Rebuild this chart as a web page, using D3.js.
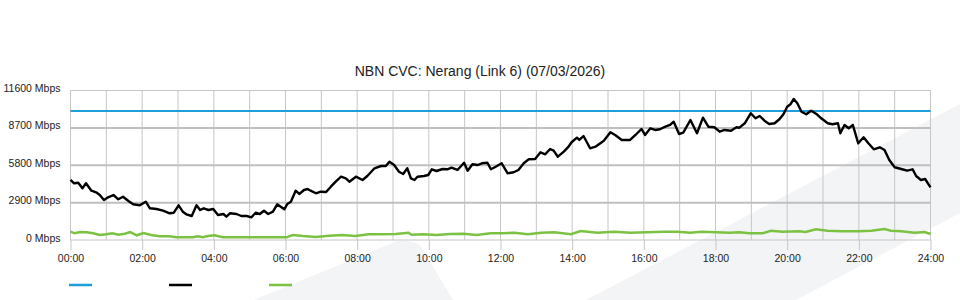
<!DOCTYPE html>
<html>
<head>
<meta charset="utf-8">
<script src="https://cdn.jsdelivr.net/npm/d3@7"></script>
<style>
  html, body { margin: 0; padding: 0; background: #fff; }
  svg { display: block; font-family: "Liberation Sans", Arial, sans-serif; }
</style>
</head>
<body>
<svg id="chart" width="960" height="300"></svg>
<script>
// chart text
const title = 'NBN CVC: Nerang (Link 6) (07/03/2026)';
const yTicks = [0, 2900, 5800, 8700, 11600];
const xTickMinutes = [0, 120, 240, 360, 480, 600, 720, 840, 960, 1080, 1200, 1320, 1440];

// capacity (blue)
const capacityMbps = 10000;

// used bandwidth (black): minutes after midnight, Mbps
const usedMinutes = [0, 6, 13, 20, 26, 35, 44, 49, 56, 63, 72, 80, 88, 97, 105, 116, 126, 133, 144, 155, 166, 173,
  181, 188, 194, 203, 211, 217, 223, 231, 239, 247, 256, 261, 267, 278, 286, 295, 303, 310, 317, 324, 331, 339,
  346, 358, 363, 369, 377, 383, 391, 397, 402, 411, 419, 428, 436, 444, 453, 461, 467, 478, 489, 497, 509, 520,
  528, 534, 542, 550, 557, 564, 570, 576, 581, 592, 599, 605, 613, 623, 631, 638, 648, 659, 665, 673, 682, 689,
  698, 704, 712, 722, 732, 742, 750, 759, 767, 778, 787, 795, 803, 809, 816, 826, 834, 839, 848, 852, 859, 870,
  879, 893, 904, 912, 923, 937, 946, 956, 962, 971, 979, 987, 996, 1004, 1010, 1019, 1026, 1038, 1049, 1059,
  1068, 1078, 1087, 1095, 1106, 1115, 1120, 1129, 1139, 1147, 1154, 1162, 1170, 1179, 1187, 1194, 1200, 1206,
  1211, 1217, 1224, 1232, 1240, 1249, 1257, 1268, 1276, 1285, 1289, 1296, 1303, 1310, 1319, 1328, 1336, 1345,
  1355, 1363, 1371, 1380, 1391, 1401, 1410, 1416, 1424, 1431, 1440];
const usedMbps = [4660, 4400, 4446, 4012, 4400, 3826, 3670, 3492, 3104, 3313, 3492, 3158, 3360, 3026, 2770, 2693,
  2972, 2460, 2406, 2274, 2072, 2118, 2693, 2196, 1994, 1862, 2693, 2328, 2460, 2328, 2406, 1940, 2018, 1808,
  2072, 2018, 1862, 1862, 1762, 2118, 2018, 2274, 2018, 2196, 2770, 2382, 2794, 2972, 3826, 3570, 3880, 3958,
  3826, 3624, 3748, 3725, 4136, 4524, 4912, 4788, 4524, 4912, 4656, 4966, 5564, 5742, 5742, 6076, 5820, 5300,
  5122, 5564, 4788, 4656, 4912, 4966, 5044, 5486, 5354, 5510, 5486, 5610, 5432, 5998, 5378, 5874, 5820, 5952,
  5998, 5486, 5688, 5952, 5176, 5254, 5432, 5952, 6262, 6286, 6806, 6650, 7062, 6930, 6464, 6852, 7240, 7582,
  7938, 7760, 8070, 7116, 7240, 7706, 8357, 8148, 7760, 7760, 8148, 8614, 8148, 8668, 8536, 8590, 8792, 8924,
  9180, 8226, 8326, 9312, 8280, 9490, 8792, 8746, 8404, 8536, 8482, 8746, 8714, 9056, 9832, 9444, 9622, 9258,
  9002, 9056, 9366, 9778, 10344, 10554, 10942, 10608, 9956, 9754, 10034, 9778, 9444, 9056, 8978, 9056, 8280,
  8924, 8668, 8924, 7504, 7970, 7504, 7038, 7194, 6984, 6208, 5642, 5510, 5378, 5486, 4966, 4656, 4734, 4090];

// second series (green): minutes after midnight, Mbps
const greenMinutes = [0, 7, 16, 27, 38, 49, 60, 70, 80, 91, 100, 111, 122, 135, 149, 166, 177, 205, 213, 222, 230,
  241, 255, 362, 372, 389, 411, 433, 455, 477, 499, 521, 544, 566, 571, 591, 613, 636, 658, 680, 704, 722, 743,
  766, 788, 810, 838, 854, 882, 910, 938, 966, 994, 1016, 1038, 1056, 1081, 1103, 1120, 1137, 1159, 1173, 1192,
  1220, 1231, 1248, 1268, 1291, 1319, 1341, 1363, 1374, 1391, 1413, 1430, 1440];
const greenMbps = [644, 520, 620, 598, 520, 388, 442, 520, 411, 489, 620, 365, 543, 388, 287, 287, 210, 210, 287,
  210, 310, 365, 210, 210, 388, 310, 233, 334, 388, 310, 442, 442, 466, 566, 411, 442, 388, 466, 489, 388, 520,
  520, 566, 442, 566, 598, 442, 698, 566, 644, 566, 598, 644, 644, 566, 644, 598, 566, 598, 520, 520, 722, 644,
  675, 620, 830, 722, 675, 675, 722, 854, 722, 675, 566, 620, 466];

// legend colours in order
const legendColors = ['#1e9fdc', '#000000', '#7cc242'];

const svg = d3.select('#chart');
const plotLeft = 70.5, plotRight = 930.5, plotTop = 90.5, plotBottom = 240;

// watermark shapes behind the chart
svg.append('path')
  .attr('d', 'M586,300 L960,104 L960,213 L796,300 Z')
  .attr('fill', '#f3f4f6');
svg.append('path')
  .attr('d', 'M254,300 L392,243 Q405,237 420,245 L453,300 Z')
  .attr('fill', '#f3f4f6');

const x = d3.scaleLinear().domain([0, 1440]).range([plotLeft, plotRight]);
const y = d3.scaleLinear().domain([0, 11600]).range([plotBottom, plotTop]);

// grid
const grid = svg.append('g');
grid.selectAll('line.v')
  .data(d3.range(0, 1441, 60))
  .enter().append('line')
  .attr('x1', d => x(d)).attr('x2', d => x(d))
  .attr('y1', plotTop).attr('y2', plotBottom)
  .attr('stroke', '#c6c6c6').attr('stroke-width', 1);
grid.selectAll('line.h')
  .data(yTicks)
  .enter().append('line')
  .attr('x1', plotLeft).attr('x2', plotRight)
  .attr('y1', d => y(d)).attr('y2', d => y(d))
  .attr('stroke', d => (d === 0 || d === 11600) ? '#c6c6c6' : '#bfbfbf')
  .attr('stroke-width', d => (d === 0 || d === 11600) ? 1 : 2);

// x axis
const xAxis = svg.append('g')
  .attr('transform', `translate(0,${plotBottom})`)
  .call(d3.axisBottom(x)
    .tickValues(xTickMinutes)
    .tickSize(10)
    .tickPadding(5)
    .tickFormat(d => String(d / 60).padStart(2, '0') + ':00'));
xAxis.select('.domain').remove();
xAxis.selectAll('line').attr('stroke', '#c6c6c6');
xAxis.selectAll('text')
  .attr('fill', '#222')
  .style('font-size', '10.5px')
  .style('font-family', '"Liberation Sans", Arial, sans-serif');

// y axis labels
const yAxis = svg.append('g')
  .attr('transform', `translate(${plotLeft},0)`)
  .call(d3.axisLeft(y)
    .tickValues(yTicks)
    .tickSize(0)
    .tickPadding(10)
    .tickFormat(d => d + ' Mbps'));
yAxis.select('.domain').remove();
yAxis.selectAll('text')
  .attr('fill', '#222')
  .attr('dy', '0.1em')
  .style('font-size', '10.5px')
  .style('font-family', '"Liberation Sans", Arial, sans-serif');

// series
svg.append('line')
  .attr('x1', x(0)).attr('x2', x(1440))
  .attr('y1', y(capacityMbps)).attr('y2', y(capacityMbps))
  .attr('stroke', legendColors[0]).attr('stroke-width', 2);

const line = d3.line().x(d => x(d[0])).y(d => y(d[1]));

svg.append('path')
  .datum(greenMinutes.map((m, i) => [m, greenMbps[i]]))
  .attr('d', line)
  .attr('fill', 'none')
  .attr('stroke', legendColors[2])
  .attr('stroke-width', 2.5);

svg.append('path')
  .datum(usedMinutes.map((m, i) => [m, usedMbps[i]]))
  .attr('d', line)
  .attr('fill', 'none')
  .attr('stroke', legendColors[1])
  .attr('stroke-width', 2.4)
  .attr('stroke-linejoin', 'round');

// title
svg.append('text')
  .attr('x', 480).attr('y', 75.5)
  .attr('text-anchor', 'middle')
  .attr('fill', '#222')
  .style('font-size', '14px')
  .text(title);

// legend (no labels in the source)
svg.selectAll('line.legend')
  .data(legendColors)
  .enter().append('line')
  .attr('x1', (d, i) => 69 + i * 100)
  .attr('x2', (d, i) => 92 + i * 100)
  .attr('y1', 285).attr('y2', 285)
  .attr('stroke', d => d)
  .attr('stroke-width', 2.5);
</script>
</body>
</html>
